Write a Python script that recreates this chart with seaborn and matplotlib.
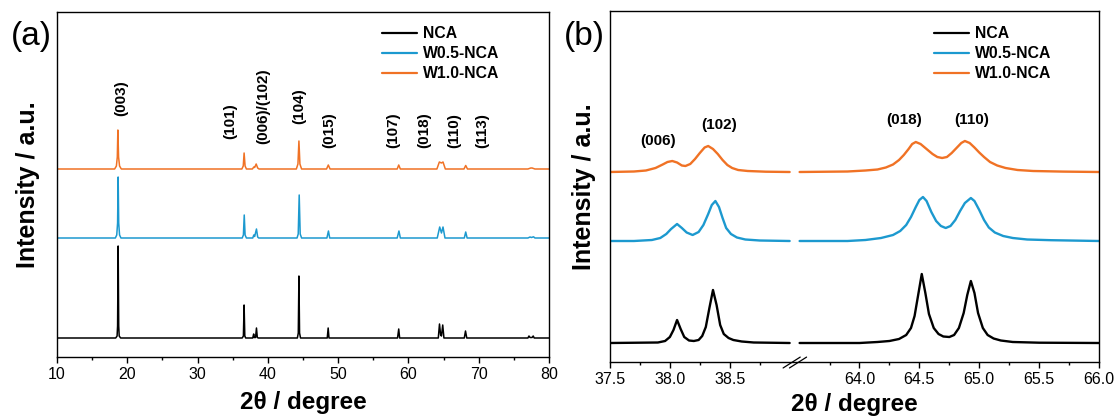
import numpy as np
import pandas as pd
import matplotlib
matplotlib.use("Agg")
import matplotlib.pyplot as plt
import seaborn as sns
from matplotlib.lines import Line2D
from matplotlib.ticker import FixedLocator, FormatStrFormatter, MultipleLocator

# ---------------- data: panel (a), full pattern (intensity above each baseline) -------------
nca_a_x = [10.0, 18.35, 18.55, 18.62, 18.70, 18.78, 18.85, 19.05,
           36.35, 36.52, 36.62, 36.72, 36.85,
           37.85, 37.98, 38.08, 38.25, 38.38, 38.50, 38.65,
           44.20, 44.33, 44.42, 44.51, 44.65,
           48.45, 48.58, 48.70,
           58.45, 58.62, 58.75,
           64.25, 64.42, 64.58, 64.70, 64.88, 65.05,
           67.95, 68.12, 68.30,
           77.00, 77.15, 77.30, 77.60, 77.75, 77.90, 80.0]
nca_a_y = [0, 0, 2, 12, 92, 12, 2, 0,
           0, 2, 33, 2, 0,
           0, 4, 0.5, 0.5, 10, 0.5, 0,
           0, 5, 62, 5, 0,
           0, 10, 0,
           0, 9, 0,
           0, 14, 3, 2, 13, 0,
           0, 7, 0,
           0, 2, 0.5, 0.5, 2, 0, 0]

w05_a_x = [10.0, 18.30, 18.50, 18.62, 18.70, 18.78, 18.90, 19.10,
           36.35, 36.52, 36.64, 36.76, 36.95,
           37.85, 38.00, 38.12, 38.38, 38.55, 38.70,
           44.15, 44.32, 44.46, 44.60, 44.80,
           48.40, 48.62, 48.80,
           58.40, 58.65, 58.85,
           64.10, 64.45, 64.70, 64.92, 65.20,
           67.95, 68.15, 68.35,
           77.00, 77.30, 77.50, 77.80, 78.00, 80.0]
w05_a_y = [0, 0, 3, 15, 61, 15, 3, 0,
           0, 3, 23, 3, 0,
           0, 3, 1.5, 9, 1, 0,
           0, 4, 43, 4, 0,
           0, 7, 0,
           0, 7, 0,
           0, 11, 5, 11, 0,
           0, 6, 0,
           0, 1, 0.5, 1.2, 0, 0]

w10_a_x = [10.0, 18.20, 18.45, 18.58, 18.66, 18.76, 18.90, 19.15,
           36.30, 36.50, 36.62, 36.76, 36.95,
           37.80, 38.00, 38.12, 38.34, 38.55, 38.75,
           44.05, 44.28, 44.42, 44.56, 44.80,
           48.35, 48.60, 48.85,
           58.40, 58.62, 58.85,
           64.05, 64.40, 64.70, 64.92, 65.25,
           67.90, 68.15, 68.40,
           77.00, 77.40, 77.60, 78.00, 80.0]
w10_a_y = [0, 0, 3, 12, 39, 12, 3, 0,
           0, 3, 16, 3, 0,
           0, 2, 1.5, 5, 1, 0,
           0, 5, 28, 5, 0,
           0, 4, 0,
           0, 4, 0,
           0, 7, 6, 7, 0,
           0, 3.5, 0,
           0, 1, 1, 0, 0]

# ---------------- data: panel (b), zoomed regions -------------
nca_b1_x = [37.50, 37.90, 37.96, 38.00, 38.03, 38.06, 38.09, 38.12, 38.16, 38.20, 38.24,
            38.27, 38.30, 38.33, 38.36, 38.39, 38.42, 38.45, 38.49, 38.53, 38.60, 38.70, 39.00]
nca_b1_y = [0, 0.5, 2, 6, 13, 23, 14, 6, 2.5, 2, 3,
            7, 16, 35, 53, 38, 18, 9, 5, 3, 1.5, 0.5, 0]
nca_b2_x = [63.50, 64.00, 64.15, 64.25, 64.33, 64.39, 64.43, 64.46, 64.49, 64.52, 64.55,
            64.58, 64.62, 64.66, 64.70, 64.75, 64.79, 64.83, 64.87, 64.90, 64.93, 64.96,
            64.99, 65.03, 65.07, 65.12, 65.18, 65.28, 65.50, 66.00]
nca_b2_y = [0, 0, 1, 2, 4, 8, 15, 27, 48, 69, 50,
            29, 15, 9, 6.5, 6, 8, 15, 30, 48, 62, 50,
            30, 15, 8, 4.5, 2.5, 1, 0.3, 0]

w05_b1_x = [37.50, 37.70, 37.85, 37.92, 37.97, 38.01, 38.06, 38.10, 38.14, 38.19, 38.24,
            38.28, 38.32, 38.35, 38.38, 38.41, 38.44, 38.47, 38.51, 38.56, 38.63, 38.75, 39.00]
w05_b1_y = [0, 0, 1, 3, 7, 12, 17, 13, 8.5, 6, 9,
            16, 27, 36, 40, 34, 23, 13, 7, 3.5, 1.5, 0.5, 0]
w05_b2_x = [63.50, 63.90, 64.05, 64.18, 64.28, 64.34, 64.39, 64.43, 64.47, 64.50, 64.53,
            64.56, 64.60, 64.64, 64.68, 64.72, 64.76, 64.80, 64.84, 64.88, 64.93, 64.96,
            65.00, 65.04, 65.08, 65.13, 65.20, 65.28, 65.40, 65.60, 66.00]
w05_b2_y = [0, 0, 1, 3, 6, 10, 16, 24, 34, 41, 44,
            40, 29, 20, 15, 13, 15, 21, 30, 38, 43, 40,
            31, 21, 13.5, 8.5, 5, 3, 1.5, 0.8, 0]

w10_b1_x = [37.50, 37.70, 37.80, 37.88, 37.94, 37.98, 38.02, 38.06, 38.10, 38.13, 38.17,
            38.21, 38.25, 38.29, 38.32, 38.36, 38.40, 38.44, 38.48, 38.52, 38.57, 38.65,
            38.80, 39.00]
w10_b1_y = [0, 0.5, 1.5, 4, 7.5, 10, 11, 9.5, 6.5, 6, 8,
            13, 19, 24.5, 26, 23, 18, 12, 7, 4, 2, 1,
            0.3, 0]
w10_b2_x = [63.50, 63.90, 64.05, 64.15, 64.22, 64.28, 64.33, 64.37, 64.41, 64.44, 64.47,
            64.51, 64.56, 64.61, 64.65, 64.69, 64.73, 64.77, 64.81, 64.85, 64.88, 64.92,
            64.96, 65.00, 65.04, 65.09, 65.15, 65.22, 65.32, 65.45, 65.70, 66.00]
w10_b2_y = [0, 0.5, 1.5, 2.5, 4.5, 7.5, 12, 17, 23, 28, 30,
            28, 23, 18, 15, 14, 15, 19, 24, 29, 31, 29,
            24.5, 19.5, 15, 10, 6.5, 4, 2, 1, 0.4, 0]

samples = ["NCA", "W0.5-NCA", "W1.0-NCA"]
colors = ["#000000", "#1c99cf", "#f07225"]

peaks_a = ["(003)", "(101)", "(006)/(102)", "(104)", "(015)", "(107)", "(018)", "(110)", "(113)"]
peaks_a_pos = [19.2, 34.6, 39.3, 44.4, 48.7, 57.9, 62.3, 66.5, 70.5]
peaks_b = ["(006)", "(102)", "(018)", "(110)"]
peaks_b_pos = [37.9, 38.41, 64.37, 64.94]

xticks_b = [37.5, 38.0, 38.5, 64.0, 64.5, 65.0, 65.5, 66.0]
xminor_b = [37.75, 38.25, 38.75, 63.75, 64.25, 64.75, 65.25, 65.75]

# baselines of the stacked curves (a.u.)
offs_a = [19, 119, 188]
offs_b = [19, 121, 190]
label_a_y = [241, 218, 213, 233, 209, 209, 209, 209, 209]
label_b_y = [221, 237, 242, 242]

# ---------------- build tables -------------
rows = []
for s, xs, ys, o in zip(samples, [nca_a_x, w05_a_x, w10_a_x], [nca_a_y, w05_a_y, w10_a_y], offs_a):
    for x, y in zip(xs, ys):
        rows.append((s, x, y + o))
dfa = pd.DataFrame(rows, columns=["sample", "x", "y"])

rows = []
segs_b = [(nca_b1_x, nca_b1_y, nca_b2_x, nca_b2_y),
          (w05_b1_x, w05_b1_y, w05_b2_x, w05_b2_y),
          (w10_b1_x, w10_b1_y, w10_b2_x, w10_b2_y)]
for s, (x1, y1, x2, y2), o in zip(samples, segs_b, offs_b):
    for x, y in zip(x1, y1):
        rows.append((s, f"{s}-L", x, y + o))
    for x, y in zip(x2, y2):
        rows.append((s, f"{s}-R", x, y + o))
dfb = pd.DataFrame(rows, columns=["sample", "seg", "x", "y"])

# ---------------- style -------------
sns.set_theme(style="ticks")
plt.rcParams["font.family"] = ["Liberation Sans", "DejaVu Sans"]
plt.rcParams["axes.edgecolor"] = "black"
plt.rcParams["axes.linewidth"] = 1.0
plt.rcParams["text.color"] = "black"
plt.rcParams["axes.labelcolor"] = "black"
plt.rcParams["xtick.color"] = "black"
plt.rcParams["ytick.color"] = "black"

W, H = 1119, 418
fig = plt.figure(figsize=(W / 100, H / 100), dpi=100)
axA = fig.add_axes([57 / W, 1 - 357 / H, 492 / W, 345 / H])
axB = fig.add_axes([610 / W, 1 - 362 / H, 489 / W, 351 / H])

# broken x scale for panel (b)
GAP = 10 / 120.0


def fwd(x):
    x = np.asarray(x, dtype=float)
    return np.where(x <= 39.0, x - 37.5,
                    np.where(x >= 63.5, x - 63.5 + 1.5 + GAP,
                             1.5 + (x - 39.0) / 24.5 * GAP))


def inv(u):
    u = np.asarray(u, dtype=float)
    return np.where(u <= 1.5, u + 37.5,
                    np.where(u >= 1.5 + GAP, u - 1.5 - GAP + 63.5,
                             39.0 + (u - 1.5) / GAP * 24.5))


axB.set_xscale("function", functions=(fwd, inv))

pal = dict(zip(samples, colors))
sns.lineplot(data=dfa, x="x", y="y", hue="sample", palette=pal, estimator=None,
             lw=1.1, legend=False, ax=axA)
sns.lineplot(data=dfb, x="x", y="y", hue="sample", units="seg", palette=pal,
             estimator=None, lw=1.7, legend=False, ax=axB)

axA.set_xlim(10, 80)
axA.set_ylim(0, 345)
axB.set_xlim(37.5, 66.0)
axB.set_ylim(0, 351)

axA.xaxis.set_major_locator(MultipleLocator(10))
axA.xaxis.set_minor_locator(MultipleLocator(5))
axB.xaxis.set_major_locator(FixedLocator(xticks_b))
axB.xaxis.set_minor_locator(FixedLocator(xminor_b))
axB.xaxis.set_major_formatter(FormatStrFormatter("%.1f"))

for ax, label_off, axh in [(axA, 45, 345), (axB, 42, 351)]:
    for sp in ax.spines.values():
        sp.set_visible(True)
        sp.set_color("black")
        sp.set_linewidth(1.0)
    ax.tick_params(axis="x", which="major", direction="out", length=4, width=1,
                   labelsize=11.5, pad=3.5, colors="black", bottom=True)
    ax.tick_params(axis="x", which="minor", direction="out", length=2.5, width=1, bottom=True)
    ax.tick_params(axis="y", left=False, labelleft=False, which="both")
    ax.set_xlabel("2θ / degree", fontsize=17.5, fontweight="bold", color="black")
    ax.set_ylabel("Intensity / a.u.", fontsize=18, fontweight="bold", color="black")
    ax.xaxis.label.set_va("center")
    ax.yaxis.label.set_va("center")
    ax.xaxis.set_label_coords(0.5, -label_off / axh)
    ax.grid(False)

axA.yaxis.set_label_coords(-29 / 492, 0.5)
axB.yaxis.set_label_coords(-26 / 489, 0.5)

# peak labels
for t, x, y in zip(peaks_a, peaks_a_pos, label_a_y):
    axA.text(x, y, t, rotation=90, ha="center", va="bottom", fontsize=11,
             fontweight="bold", color="black")
for t, x, y in zip(peaks_b, peaks_b_pos, label_b_y):
    axB.text(x, y, t, ha="center", va="center", fontsize=11, fontweight="bold", color="black")

# legends
handles = [Line2D([0], [0], color=c, lw=1.6) for c in colors]
for ax, xa, ya in [(axA, (382 - 57) / 492, (357 - 26.5) / 345),
                   (axB, (934 - 610) / 489, (362 - 26.5) / 351)]:
    leg = ax.legend(handles, samples, loc="upper left", bbox_to_anchor=(xa, ya),
                    frameon=False, borderpad=0, borderaxespad=0, handlelength=2.2,
                    handletextpad=0.4, labelspacing=0.31,
                    prop={"weight": "bold", "size": 11.3})
    for t in leg.get_texts():
        t.set_color("black")

# axis-break marks
for dx in (0.0, 0.013):
    axB.plot([0.354 + dx, 0.389 + dx], [-0.017, 0.014], transform=axB.transAxes,
             color="black", lw=0.9, clip_on=False)

fig.text(31 / W, 1 - 36 / H, "(a)", fontsize=24, ha="center", va="center", color="black")
fig.text(584 / W, 1 - 36 / H, "(b)", fontsize=24, ha="center", va="center", color="black")

fig.savefig("out.png", dpi=100)
